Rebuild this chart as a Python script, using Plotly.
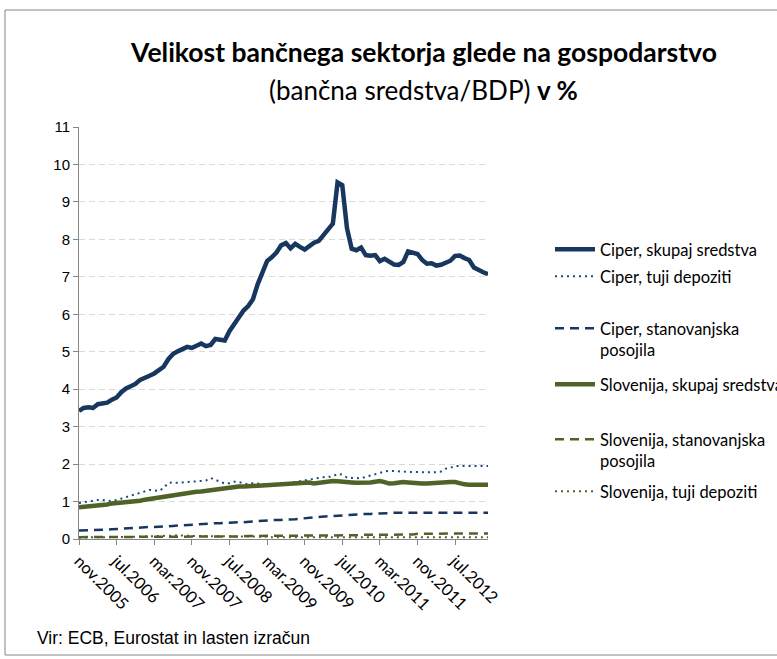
import plotly.graph_objects as go

# ---- categories (monthly, nov.2005 .. feb.2013) ----
month_names = ["jan", "feb", "mar", "apr", "maj", "jun", "jul", "avg", "sep", "okt", "nov", "dec"]
months = []
y, m = 2005, 10
for _ in range(88):
    months.append(f"{month_names[m]}.{y}")
    m += 1
    if m == 12:
        m = 0
        y += 1

tick_labels = ["nov.2005", "jul.2006", "mar.2007", "nov.2007", "jul.2008", "mar.2009",
               "nov.2009", "jul.2010", "mar.2011", "nov.2011", "jul.2012"]

# ---- series (bank size relative to GDP, multiples) ----
ciper_skupaj = [
    3.42, 3.50, 3.52, 3.50, 3.60, 3.62, 3.64, 3.72, 3.78, 3.92,
    4.02, 4.08, 4.14, 4.25, 4.32, 4.36, 4.42, 4.50, 4.60, 4.80,
    4.94, 5.01, 5.08, 5.13, 5.10, 5.15, 5.22, 5.15, 5.18, 5.34,
    5.32, 5.30, 5.55, 5.75, 5.90, 6.10, 6.22, 6.40, 6.80, 7.15,
    7.42, 7.52, 7.65, 7.84, 7.90, 7.76, 7.88, 7.80, 7.73, 7.82,
    7.91, 7.96, 8.10, 8.28, 8.42, 9.52, 9.45, 8.30, 7.75, 7.71,
    7.78, 7.58, 7.56, 7.58, 7.42, 7.48, 7.40, 7.33, 7.32, 7.40,
    7.68, 7.63, 7.61, 7.45, 7.35, 7.36, 7.30, 7.32, 7.36, 7.43,
    7.56, 7.57, 7.50, 7.45, 7.25, 7.17, 7.12, 7.07]

ciper_tuji = [
    0.96, 0.98, 1.00, 1.03, 1.04, 1.04, 1.03, 1.01, 1.04, 1.08,
    1.13, 1.17, 1.21, 1.25, 1.28, 1.31, 1.30, 1.28, 1.36, 1.50,
    1.51, 1.50, 1.51, 1.52, 1.52, 1.53, 1.54, 1.56, 1.63, 1.58,
    1.52, 1.48, 1.49, 1.53, 1.52, 1.48, 1.46, 1.49, 1.48, 1.47,
    1.46, 1.47, 1.47, 1.47, 1.48, 1.50, 1.52, 1.55, 1.57, 1.59,
    1.62, 1.63, 1.65, 1.66, 1.67, 1.74, 1.72, 1.64, 1.63, 1.63,
    1.62, 1.66, 1.70, 1.72, 1.76, 1.80, 1.82, 1.82, 1.82, 1.80,
    1.79, 1.79, 1.79, 1.78, 1.77, 1.78, 1.78, 1.80, 1.88, 1.90,
    1.95, 1.95, 1.95, 1.94, 1.94, 1.95, 1.95, 1.95]

ciper_stan = [
    0.23, 0.23, 0.23, 0.23, 0.24, 0.24, 0.25, 0.26, 0.27, 0.28,
    0.29, 0.30, 0.31, 0.31, 0.31, 0.32, 0.32, 0.32, 0.33, 0.34,
    0.35, 0.36, 0.37, 0.38, 0.38, 0.38, 0.39, 0.40, 0.41, 0.42,
    0.42, 0.43, 0.44, 0.44, 0.45, 0.45, 0.46, 0.47, 0.48, 0.49,
    0.50, 0.50, 0.51, 0.51, 0.51, 0.52, 0.53, 0.54, 0.56, 0.57,
    0.58, 0.59, 0.60, 0.61, 0.62, 0.62, 0.63, 0.63, 0.64, 0.65,
    0.66, 0.67, 0.67, 0.67, 0.67, 0.68, 0.69, 0.70, 0.70, 0.70,
    0.70, 0.70, 0.70, 0.70, 0.70, 0.70, 0.70, 0.70, 0.70, 0.70,
    0.70, 0.70, 0.70, 0.70, 0.70, 0.70, 0.70, 0.70]

slo_skupaj = [
    0.85, 0.86, 0.87, 0.87, 0.88, 0.89, 0.92, 0.95, 0.96, 0.96,
    0.96, 0.98, 1.00, 1.02, 1.05, 1.07, 1.08, 1.10, 1.12, 1.14,
    1.17, 1.20, 1.23, 1.25, 1.26, 1.26, 1.27, 1.29, 1.31, 1.33,
    1.35, 1.37, 1.38, 1.39, 1.40, 1.40, 1.41, 1.42, 1.43, 1.44,
    1.45, 1.46, 1.46, 1.47, 1.48, 1.49, 1.50, 1.51, 1.52, 1.51,
    1.48, 1.50, 1.52, 1.54, 1.55, 1.54, 1.52, 1.52, 1.51, 1.50,
    1.50, 1.49, 1.51, 1.53, 1.55, 1.52, 1.48, 1.49, 1.51, 1.52,
    1.51, 1.49, 1.48, 1.48, 1.48, 1.49, 1.51, 1.52, 1.52, 1.52,
    1.52, 1.48, 1.46, 1.45, 1.45, 1.45, 1.45, 1.45]

slo_stan = [
    0.05, 0.05, 0.05, 0.05, 0.05, 0.05, 0.05, 0.05, 0.05, 0.05,
    0.05, 0.05, 0.06, 0.06, 0.06, 0.06, 0.06, 0.06, 0.06, 0.06,
    0.06, 0.06, 0.06, 0.06, 0.07, 0.07, 0.07, 0.07, 0.07, 0.07,
    0.07, 0.07, 0.07, 0.07, 0.07, 0.07, 0.08, 0.08, 0.08, 0.08,
    0.08, 0.08, 0.08, 0.08, 0.08, 0.08, 0.08, 0.08, 0.09, 0.09,
    0.09, 0.09, 0.09, 0.09, 0.10, 0.10, 0.10, 0.10, 0.10, 0.10,
    0.11, 0.11, 0.11, 0.11, 0.11, 0.11, 0.12, 0.12, 0.12, 0.12,
    0.12, 0.12, 0.14, 0.14, 0.14, 0.14, 0.14, 0.14, 0.15, 0.15,
    0.15, 0.15, 0.15, 0.15, 0.15, 0.15, 0.15, 0.15]

slo_tuji = [
    0.04, 0.04, 0.05, 0.05, 0.05, 0.05, 0.05, 0.05, 0.05, 0.05,
    0.06, 0.06, 0.06, 0.06, 0.07, 0.07, 0.08, 0.08, 0.09, 0.09,
    0.09, 0.10, 0.09, 0.09, 0.08, 0.08, 0.08, 0.08, 0.08, 0.08,
    0.08, 0.08, 0.07, 0.07, 0.07, 0.07, 0.06, 0.06, 0.06, 0.06,
    0.06, 0.05, 0.05, 0.05, 0.05, 0.05, 0.05, 0.05, 0.05, 0.05,
    0.05, 0.05, 0.05, 0.05, 0.05, 0.05, 0.05, 0.05, 0.05, 0.05,
    0.05, 0.05, 0.05, 0.05, 0.05, 0.05, 0.05, 0.05, 0.05, 0.05,
    0.05, 0.05, 0.05, 0.05, 0.05, 0.05, 0.05, 0.05, 0.05, 0.05,
    0.05, 0.05, 0.05, 0.05, 0.05, 0.05, 0.05, 0.05]

NAVY = "#17375E"
BLUE = "#1F497D"
OLIVE = "#4F6228"

series = [
    ("Ciper, skupaj sredstva", ciper_skupaj, NAVY, 4.5, "solid"),
    ("Ciper, tuji depoziti", ciper_tuji, BLUE, 2, "2px,4px"),
    ("Ciper, stanovanjska<br>posojila", ciper_stan, NAVY, 2.5, "9px,6px"),
    ("Slovenija, skupaj sredstva", slo_skupaj, OLIVE, 4.5, "solid"),
    ("Slovenija, stanovanjska<br>posojila", slo_stan, OLIVE, 2.5, "9px,6px"),
    ("Slovenija, tuji depoziti", slo_tuji, OLIVE, 2, "2px,4px"),
]

# legend entry top positions (px from top of figure)
legend_tops = [232, 259, 311, 367, 422, 474]

W, H = 777, 659
TXT = "Lato, Calibri, sans-serif"
ARIAL = "Liberation Sans, Arial, sans-serif"

fig = go.Figure()
layout_legends = {}
for k, (name, vals, col, w, dash) in enumerate(series):
    lid = "legend" if k == 0 else f"legend{k+1}"
    fig.add_trace(go.Scatter(
        x=months, y=vals, mode="lines", name=name,
        line=dict(color=col, width=w, dash=dash),
        legend=lid, hoverinfo="skip"))
    layout_legends[lid] = dict(
        xref="container", yref="container",
        x=550 / W, y=1 - legend_tops[k] / H,
        xanchor="left", yanchor="top",
        bgcolor="rgba(0,0,0,0)", borderwidth=0,
        itemwidth=40, valign="top",
        font=dict(family=TXT, size=16.5, color="#000000"),
    )

fig.update_layout(
    width=W, height=H,
    paper_bgcolor="white", plot_bgcolor="white",
    margin=dict(l=79, r=W - 488, t=127, b=H - 539, autoexpand=False),
    showlegend=True,
    title=dict(
        text="<b>Velikost bančnega sektorja glede na gospodarstvo</b>",
        x=424 / W, xanchor="center", xref="container",
        y=1 - 53 / H, yanchor="middle", yref="container",
        font=dict(family=TXT, size=26.5, color="#000000"),
    ),
    annotations=[
        dict(text="(bančna sredstva/BDP) <b>v %</b>",
             xref="paper", yref="paper",
             x=(423 - 79) / 409, y=(539 - 90) / 412,
             xanchor="center", yanchor="middle", showarrow=False,
             font=dict(family=TXT, size=26, color="#000000")),
        dict(text="Vir: ECB, Eurostat in lasten izračun",
             xref="paper", yref="paper",
             x=(35 - 79) / 409, y=(539 - 638) / 412,
             xanchor="left", yanchor="middle", showarrow=False,
             font=dict(family=ARIAL, size=17.5, color="#000000")),
    ],
    shapes=[
        dict(type="rect", xref="paper", yref="paper",
             x0=(5 - 79) / 409, x1=(800 - 79) / 409,
             y0=(539 - 655) / 412, y1=(539 - 10) / 412,
             line=dict(color="#868686", width=1), fillcolor="rgba(0,0,0,0)", layer="below"),
    ],
    **layout_legends,
)

fig.update_xaxes(
    type="category", range=[0, 87],
    tickmode="array", tickvals=tick_labels, ticktext=tick_labels,
    tickangle=45, ticks="outside", ticklen=5, tickcolor="#868686",
    showline=True, linecolor="#868686", linewidth=1,
    showgrid=False, zeroline=False,
    tickfont=dict(family=TXT, size=16.5, color="#000000"),
)
fig.update_yaxes(
    range=[0, 11], tickmode="array", tickvals=list(range(12)),
    ticks="outside", ticklen=5, tickcolor="#868686",
    showline=True, linecolor="#868686", linewidth=1,
    showgrid=True, gridcolor="#D9D9D9", griddash="6px,4px", gridwidth=1,
    zeroline=False,
    tickfont=dict(family=ARIAL, size=15, color="#000000"),
)

fig.write_html("out.html")
